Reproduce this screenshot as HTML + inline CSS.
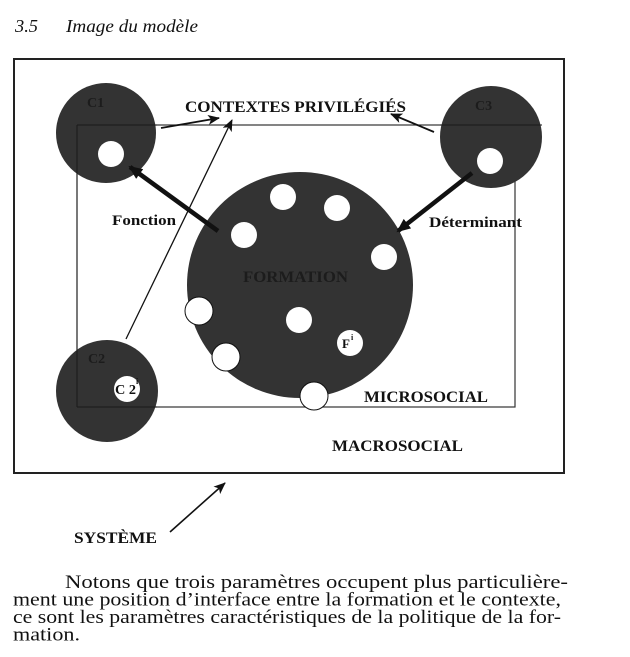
<!DOCTYPE html>
<html>
<head>
<meta charset="utf-8">
<style>
  html,body{margin:0;padding:0;background:#fff;}
  svg{display:block;}
  .b{font-family:"Liberation Serif",serif;font-weight:bold;fill:#111;}
  .p{font-family:"Liberation Serif",serif;fill:#111;}
</style>
</head>
<body>
<svg width="630" height="657" viewBox="0 0 630 657" xmlns="http://www.w3.org/2000/svg">
  <defs>
    <marker id="ah" markerUnits="userSpaceOnUse" markerWidth="12" markerHeight="10" refX="11" refY="5" orient="auto">
      <path d="M0,0 L12,5 L0,10 L3,5 Z" fill="#111"/>
    </marker>
    <marker id="ahb" markerUnits="userSpaceOnUse" markerWidth="14" markerHeight="12" refX="12" refY="6" orient="auto">
      <path d="M0,0 L14,6 L0,12 Z" fill="#111"/>
    </marker>
  </defs>

  <!-- Title -->
  <text x="15" y="32" class="p" font-style="italic" font-size="18" textLength="23" lengthAdjust="spacingAndGlyphs">3.5</text>
  <text x="66" y="32" class="p" font-style="italic" font-size="18" textLength="132" lengthAdjust="spacingAndGlyphs">Image du modèle</text>

  <!-- Outer rectangle -->
  <rect x="14" y="59" width="550" height="414" fill="none" stroke="#222" stroke-width="2"/>
  <!-- Inner rectangle -->
  <rect x="77" y="125" width="438" height="282" fill="none" stroke="#333" stroke-width="1.2"/>

  <!-- Circles -->
  <circle cx="106" cy="133" r="50" fill="#333"/>
  <circle cx="491" cy="137" r="51" fill="#333"/>
  <circle cx="107" cy="391" r="51" fill="#333"/>
  <circle cx="300" cy="285" r="113" fill="#333"/>

  <!-- faint inner lines through circles -->
  <line x1="77" y1="125" x2="157" y2="125" stroke="#1a1a1a" stroke-width="1"/>
  <line x1="440" y1="125" x2="542" y2="125" stroke="#1a1a1a" stroke-width="1"/>
  <line x1="77" y1="125" x2="77" y2="407" stroke="#1a1a1a" stroke-width="1"/>
  <line x1="77" y1="407" x2="157" y2="407" stroke="#1a1a1a" stroke-width="1"/>

  <!-- faint labels in circles -->
  <text x="87" y="107" class="b" font-size="14" style="fill:#1c1c1c">C1</text>
  <text x="475" y="110" class="b" font-size="14" style="fill:#1c1c1c">C3</text>
  <text x="88" y="363" class="b" font-size="14" style="fill:#1c1c1c">C2</text>
  <text x="243" y="282" class="b" font-size="16" textLength="105" lengthAdjust="spacingAndGlyphs" style="fill:#1c1c1c">FORMATION</text>

  <!-- White holes -->
  <g fill="#fff" stroke="#111" stroke-width="1">
    <circle cx="111" cy="154" r="13" stroke="none"/>
    <circle cx="490" cy="161" r="13" stroke="none"/>
    <circle cx="127" cy="389" r="13" stroke="none"/>
    <circle cx="283" cy="197" r="13" stroke="none"/>
    <circle cx="337" cy="208" r="13" stroke="none"/>
    <circle cx="244" cy="235" r="13" stroke="none"/>
    <circle cx="384" cy="257" r="13" stroke="none"/>
    <circle cx="199" cy="311" r="14"/>
    <circle cx="299" cy="320" r="13" stroke="none"/>
    <circle cx="350" cy="343" r="13" stroke="none"/>
    <circle cx="226" cy="357" r="14"/>
    <circle cx="314" cy="396" r="14"/>
  </g>

  <text x="115" y="394" class="b" font-size="14" textLength="21" lengthAdjust="spacingAndGlyphs">C 2</text>
  <text x="136" y="384" class="b" font-size="8">i</text>
  <text x="342" y="348" class="b" font-size="13">F</text>
  <text x="351" y="340" class="b" font-size="8">i</text>

  <!-- Arrows -->
  <line x1="161" y1="128" x2="219" y2="118" stroke="#111" stroke-width="1.8" marker-end="url(#ah)"/>
  <line x1="434" y1="132" x2="391" y2="114" stroke="#111" stroke-width="1.8" marker-end="url(#ah)"/>
  <line x1="126" y1="339" x2="232" y2="120" stroke="#111" stroke-width="1.3" marker-end="url(#ah)"/>
  <line x1="218" y1="231" x2="130" y2="167" stroke="#111" stroke-width="4.5" marker-end="url(#ahb)"/>
  <line x1="472" y1="173" x2="398" y2="231" stroke="#111" stroke-width="4.5" marker-end="url(#ahb)"/>
  <line x1="170" y1="532" x2="225" y2="483" stroke="#111" stroke-width="1.6" marker-end="url(#ah)"/>

  <!-- Labels -->
  <text x="185" y="112" class="b" font-size="16" textLength="221" lengthAdjust="spacingAndGlyphs">CONTEXTES PRIVILÉGIÉS</text>
  <text x="112" y="225" class="b" font-size="15" textLength="64" lengthAdjust="spacingAndGlyphs">Fonction</text>
  <text x="429" y="227" class="b" font-size="15" textLength="93" lengthAdjust="spacingAndGlyphs">Déterminant</text>
  <text x="364" y="402" class="b" font-size="16" textLength="124" lengthAdjust="spacingAndGlyphs">MICROSOCIAL</text>
  <text x="332" y="451" class="b" font-size="16" textLength="131" lengthAdjust="spacingAndGlyphs">MACROSOCIAL</text>
  <text x="74" y="543" class="b" font-size="16" textLength="83" lengthAdjust="spacingAndGlyphs">SYSTÈME</text>

  <!-- Paragraph -->
  <text x="65" y="588" class="p" font-size="19" textLength="503" lengthAdjust="spacingAndGlyphs">Notons que trois paramètres occupent plus particulière-</text>
  <text x="13" y="605.5" class="p" font-size="19" textLength="548" lengthAdjust="spacingAndGlyphs">ment une position d’interface entre la formation et le contexte,</text>
  <text x="13" y="623" class="p" font-size="19" textLength="548" lengthAdjust="spacingAndGlyphs">ce sont les paramètres caractéristiques de la politique de la for-</text>
  <text x="13" y="640.5" class="p" font-size="19" textLength="67" lengthAdjust="spacingAndGlyphs">mation.</text>
</svg>
</body>
</html>
